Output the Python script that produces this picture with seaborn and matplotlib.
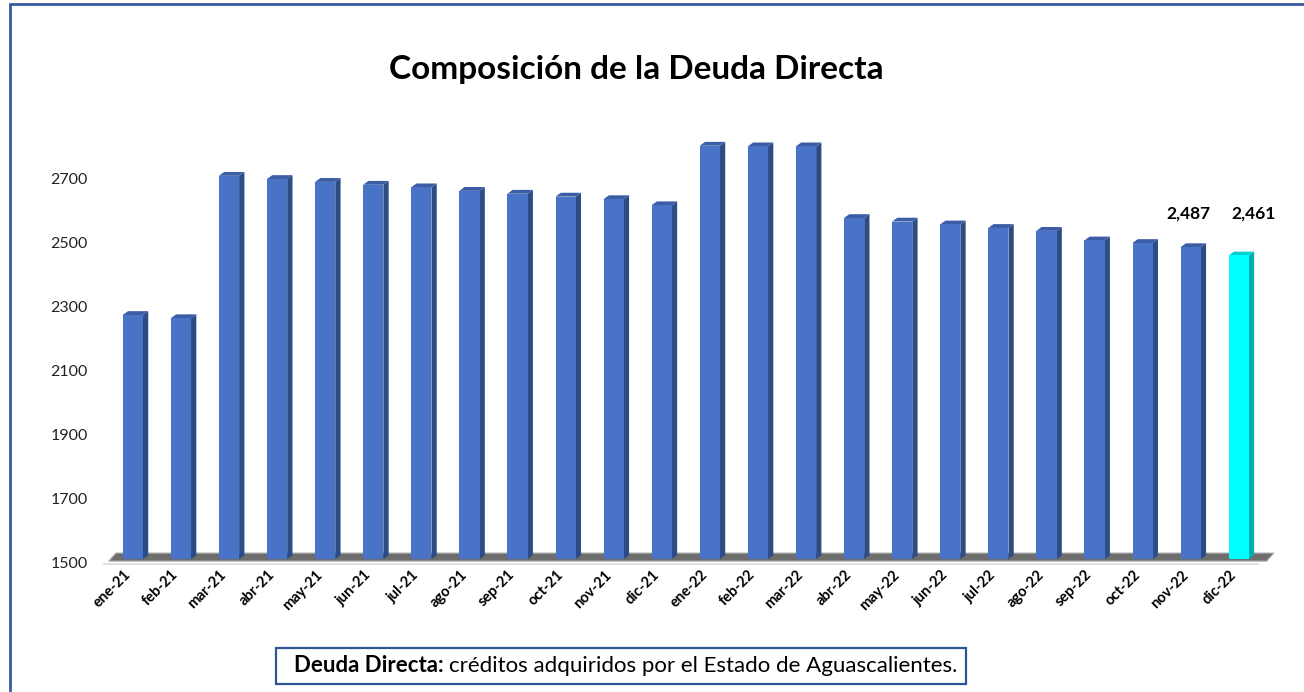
import numpy as np
import matplotlib
matplotlib.use("Agg")
import matplotlib.pyplot as plt
import matplotlib.transforms as mtransforms
from matplotlib.patches import Polygon, Rectangle
from matplotlib.lines import Line2D
import seaborn as sns

# data
months = ["ene-21", "feb-21", "mar-21", "abr-21", "may-21", "jun-21", "jul-21",
          "ago-21", "sep-21", "oct-21", "nov-21", "dic-21", "ene-22", "feb-22",
          "mar-22", "abr-22", "may-22", "jun-22", "jul-22", "ago-22", "sep-22",
          "oct-22", "nov-22", "dic-22"]
deuda = [2275, 2265, 2710, 2700, 2691, 2682, 2674, 2663, 2654, 2645, 2637, 2618,
         2804, 2802, 2802, 2578, 2567, 2558, 2547, 2538, 2508, 2500, 2487, 2461]
labelled = ["nov-22", "dic-22"]
yticks = [1500, 1700, 1900, 2100, 2300, 2500, 2700]

sns.set_style("white")
plt.rcParams["font.family"] = ["Lato", "DejaVu Sans"]

blue = {"front": "#4873C6", "side": "#2C4C86", "top": "#3A5DA6"}
cyan = {"front": "#00FFFF", "side": "#00AFAF", "top": "#00D2D2"}
faces = [cyan if m == "dic-22" else blue for m in months]

fig = plt.figure(figsize=(13.04, 6.92), dpi=100)
ax = fig.add_axes([104 / 1304, 1 - 563 / 692, (1258 - 104) / 1304, 448 / 692])

sns.barplot(x=months, y=deuda, hue=months, palette=[f["front"] for f in faces],
            legend=False, width=0.42, saturation=1, linewidth=0, ax=ax, zorder=3)

ymin, ymax = 1500, 2900
n = len(months)
ax.set_ylim(ymin, ymax)
ax.set_xlim(-0.5, n - 0.5)

# axis styling first (moving a spine resets the ticks)
for s in ["top", "right", "left"]:
    ax.spines[s].set_visible(False)
ax.spines["bottom"].set_position(("outward", 1))
ax.spines["bottom"].set_color("#D9D9D9")
ax.spines["bottom"].set_linewidth(1.2)

# fake 3D: grey floor plus side and top faces on each bar
floor = Polygon([(-0.4, ymin + 6), (n - 0.5 + 0.18, ymin + 6),
                 (n - 0.5 + 0.33, ymin + 31), (-0.25, ymin + 31)],
                closed=True, facecolor="#6D6D6D", edgecolor="#A8A8A8", lw=0.8,
                zorder=1, clip_on=False)
ax.add_patch(floor)

base = ymin + 12
shift_x = 0.1
dx, dy = 0.11, 12
for bar, f in zip(ax.patches[:n], faces):
    top = bar.get_height()
    bar.set_x(bar.get_x() + shift_x)
    bar.set_y(base)
    bar.set_height(top - base)
    x0 = bar.get_x()
    x1 = x0 + bar.get_width()
    side = Polygon([(x1, base), (x1 + dx, base + dy), (x1 + dx, top + dy), (x1, top)],
                   closed=True, facecolor=f["side"], edgecolor="none", zorder=2.9)
    lid = Polygon([(x0, top), (x1, top), (x1 + dx, top + dy), (x0 + dx, top + dy)],
                  closed=True, facecolor=f["top"], edgecolor="none", zorder=2.9)
    ax.add_patch(side)
    ax.add_patch(lid)

# value labels for the last two months (same height, as in the original)
for m, off in zip(labelled, [0.05, 0.4]):
    i = months.index(m)
    ax.annotate(f"{deuda[i]:,.0f}", xy=(i + off, 0.781), xycoords=("data", "axes fraction"),
                ha="center", va="center", fontsize=12.5, fontweight="bold", color="black")

ax.set_yticks(yticks)
ax.set_yticklabels([str(t) for t in yticks], fontsize=11.5, color="#222222")
ax.set_xticks(range(n))
ax.set_xticklabels(months, rotation=45, ha="right", va="center", rotation_mode="anchor",
                   fontsize=10.5, fontweight="bold", color="black")
shift = mtransforms.ScaledTranslation(-0.13, -0.26, fig.dpi_scale_trans)
for lab in ax.get_xticklabels():
    lab.set_transform(lab.get_transform() + shift)

ax.set_xticks(np.arange(-0.5, n, 1), minor=True)
ax.tick_params(axis="x", which="major", length=0, pad=6)
ax.tick_params(axis="x", which="minor", length=6, color="#D9D9D9", width=1.2)
ax.tick_params(axis="y", length=0, pad=11.5)
ax.set_xlabel("")
ax.set_ylabel("")

fig.text(636 / 1304, 1 - 70 / 692, "Composición de la Deuda Directa",
         ha="center", va="center", fontsize=24, fontweight="bold", color="black")

# footnote box
fig.patches.append(Rectangle((276 / 1304, 1 - 684 / 692), 690 / 1304, 36 / 692,
                             transform=fig.transFigure, facecolor="white",
                             edgecolor="#2F5597", lw=1.6))
fig.text(444 / 1304, 1 - 666 / 692, "Deuda Directa:", ha="right", va="center",
         fontsize=16, fontweight="bold", color="black")
fig.text(449 / 1304, 1 - 666 / 692, "créditos adquiridos por el Estado de Aguascalientes.",
         ha="left", va="center", fontsize=16, color="black")

# outer frame
frame = "#3A5BA0"
fig.add_artist(Line2D([10 / 1304, 1], [1 - 4 / 692, 1 - 4 / 692], color=frame, lw=2,
                      transform=fig.transFigure))
fig.add_artist(Line2D([10 / 1304, 10 / 1304], [0, 1 - 4 / 692], color=frame, lw=2,
                      transform=fig.transFigure))

fig.savefig("out.png", dpi=100)
